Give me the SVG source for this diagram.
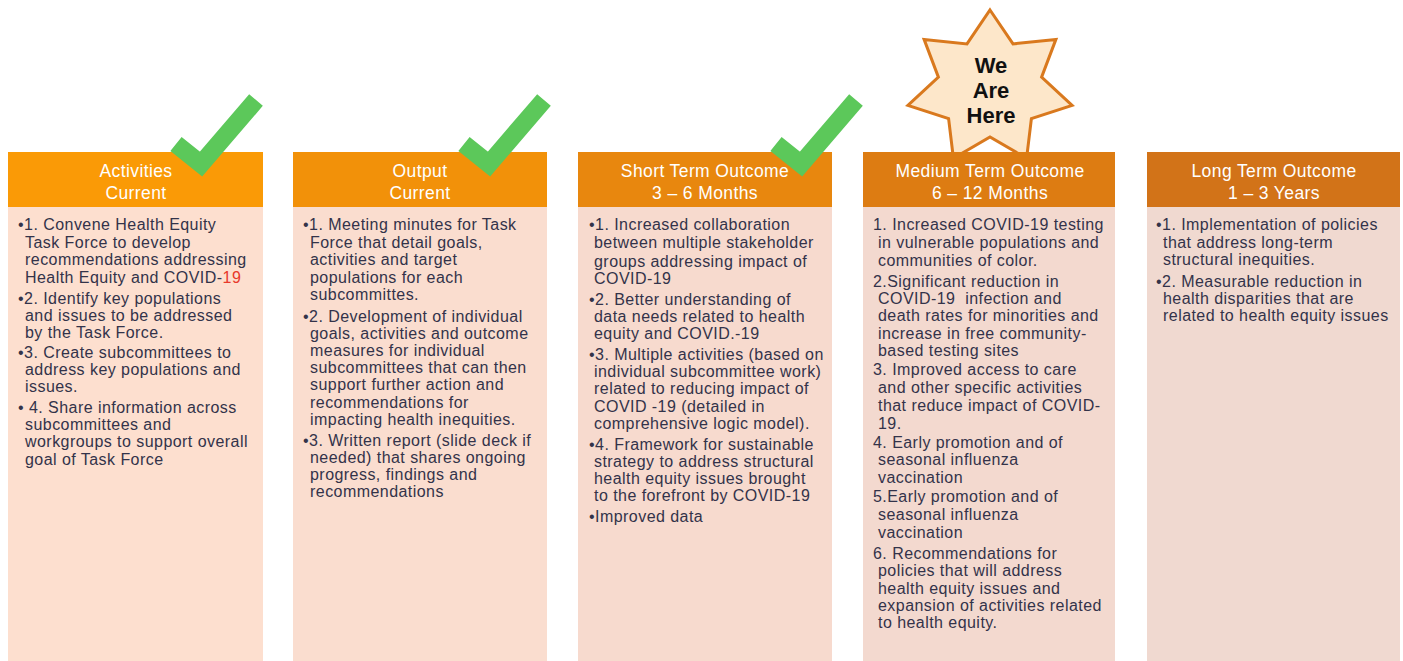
<svg xmlns="http://www.w3.org/2000/svg" width="1403" height="661" viewBox="0 0 1403 661">
<style>
.hd{font-family:"Liberation Sans",Arial,sans-serif;font-size:17.5px;fill:#ffffff;text-anchor:middle;letter-spacing:0.4px}
.bd{font-family:"Liberation Sans",Arial,sans-serif;font-size:16px;fill:#33334a;letter-spacing:0.45px}
.red{fill:#e8392b}
.check{fill:none;stroke:#5cc85a;stroke-width:18;stroke-linejoin:miter;stroke-linecap:butt}
.star{fill:#fde7ca;stroke:#d9791e;stroke-width:3;stroke-linejoin:miter}
.startxt{font-family:"Liberation Sans",Arial,sans-serif;font-size:22px;font-weight:bold;fill:#111111;text-anchor:middle}
</style>
<rect x="0" y="0" width="1403" height="661" fill="#ffffff"/>

<g id="star">
<polygon class="star" points="990,10 1013,43.9 1055.9,39.4 1041.6,77.1 1072.1,105.4 1031.4,118.6 1026.6,158.3 990,137 953.4,158.3 948.6,118.6 907.9,105.4 938.4,77.1 924.1,39.4 967,43.9"/>
<text class="startxt" x="991" y="73">We</text>
<text class="startxt" x="991" y="98">Are</text>
<text class="startxt" x="991" y="123">Here</text>
</g>

<g id="col-activities">
<rect x="8" y="207" width="255" height="454" fill="#fddfcf"/>
<rect x="8" y="152" width="255" height="55" fill="#fa9a06"/>
<text class="hd" x="136" y="177">Activities</text>
<text class="hd" x="136" y="199">Current</text>
<text class="bd">
<tspan x="18" y="230">•1. Convene Health Equity</tspan>
<tspan x="25" y="247.5">Task Force to develop</tspan>
<tspan x="25" y="265">recommendations addressing</tspan>
<tspan x="25" y="282.5">Health Equity and COVID-<tspan class="red">19</tspan></tspan>
<tspan x="18" y="303.5">•2. Identify key populations</tspan>
<tspan x="25" y="320.5">and issues to be addressed</tspan>
<tspan x="25" y="338">by the Task Force.</tspan>
<tspan x="18" y="357.5">•3. Create subcommittees to</tspan>
<tspan x="25" y="374.5">address key populations and</tspan>
<tspan x="25" y="392">issues.</tspan>
<tspan x="18" y="412.5">• 4. Share information across</tspan>
<tspan x="25" y="429.5">subcommittees and</tspan>
<tspan x="25" y="447">workgroups to support overall</tspan>
<tspan x="25" y="464.5">goal of Task Force</tspan>
</text>
</g>

<g id="col-output">
<rect x="293" y="207" width="254" height="454" fill="#faddcf"/>
<rect x="293" y="152" width="254" height="55" fill="#f29109"/>
<text class="hd" x="420" y="177">Output</text>
<text class="hd" x="420" y="199">Current</text>
<text class="bd">
<tspan x="303" y="230">•1. Meeting minutes for Task</tspan>
<tspan x="310" y="247.5">Force that detail goals,</tspan>
<tspan x="310" y="265">activities and target</tspan>
<tspan x="310" y="282.5">populations for each</tspan>
<tspan x="310" y="300">subcommittes.</tspan>
<tspan x="303" y="321.5">•2. Development of individual</tspan>
<tspan x="310" y="338.5">goals, activities and outcome</tspan>
<tspan x="310" y="356">measures for individual</tspan>
<tspan x="310" y="373">subcommittees that can then</tspan>
<tspan x="310" y="390">support further action and</tspan>
<tspan x="310" y="407.5">recommendations for</tspan>
<tspan x="310" y="424.5">impacting health inequities.</tspan>
<tspan x="303" y="445.5">•3. Written report (slide deck if</tspan>
<tspan x="310" y="462.5">needed) that shares ongoing</tspan>
<tspan x="310" y="480">progress, findings and</tspan>
<tspan x="310" y="497">recommendations</tspan>
</text>
</g>

<g id="col-short">
<rect x="578" y="207" width="254" height="454" fill="#f7dace"/>
<rect x="578" y="152" width="254" height="55" fill="#e8870e"/>
<text class="hd" x="705" y="177">Short Term Outcome</text>
<text class="hd" x="705" y="199">3 – 6 Months</text>
<text class="bd">
<tspan x="589" y="230">•1. Increased collaboration</tspan>
<tspan x="594" y="248">between multiple stakeholder</tspan>
<tspan x="594" y="266.5">groups addressing impact of</tspan>
<tspan x="594" y="284">COVID-19</tspan>
<tspan x="589" y="304.5">•2. Better understanding of</tspan>
<tspan x="594" y="321.5">data needs related to health</tspan>
<tspan x="594" y="339">equity and COVID.-19</tspan>
<tspan x="589" y="359.5">•3. Multiple activities (based on</tspan>
<tspan x="594" y="376.5">individual subcommittee work)</tspan>
<tspan x="594" y="394">related to reducing impact of</tspan>
<tspan x="594" y="411.5">COVID -19 (detailed in</tspan>
<tspan x="594" y="429">comprehensive logic model).</tspan>
<tspan x="589" y="449.5">•4. Framework for sustainable</tspan>
<tspan x="594" y="466.5">strategy to address structural</tspan>
<tspan x="594" y="484">health equity issues brought</tspan>
<tspan x="594" y="501">to the forefront by COVID-19</tspan>
<tspan x="589" y="521.5">•Improved data</tspan>
</text>
</g>

<g id="col-medium">
<rect x="863" y="207" width="252" height="454" fill="#f3d9cf"/>
<rect x="863" y="152" width="252" height="55" fill="#dd7c12"/>
<text class="hd" x="990" y="177">Medium Term Outcome</text>
<text class="hd" x="990" y="199">6 – 12 Months</text>
<text class="bd">
<tspan x="873" y="230">1. Increased COVID-19 testing</tspan>
<tspan x="878" y="248">in vulnerable populations and</tspan>
<tspan x="878" y="266">communities of color.</tspan>
<tspan x="873" y="286.5">2.Significant reduction in</tspan>
<tspan x="878" y="303.5">COVID-19&#160; infection and</tspan>
<tspan x="878" y="321">death rates for minorities and</tspan>
<tspan x="878" y="338.5">increase in free community-</tspan>
<tspan x="878" y="356">based testing sites</tspan>
<tspan x="873" y="374.5">3. Improved access to care</tspan>
<tspan x="878" y="392.5">and other specific activities</tspan>
<tspan x="878" y="411">that reduce impact of COVID-</tspan>
<tspan x="878" y="428.5">19.</tspan>
<tspan x="873" y="447.5">4. Early promotion and of</tspan>
<tspan x="878" y="465">seasonal influenza</tspan>
<tspan x="878" y="482.5">vaccination</tspan>
<tspan x="873" y="501.5">5.Early promotion and of</tspan>
<tspan x="878" y="520">seasonal influenza</tspan>
<tspan x="878" y="537.5">vaccination</tspan>
<tspan x="873" y="558.5">6. Recommendations for</tspan>
<tspan x="878" y="576">policies that will address</tspan>
<tspan x="878" y="593.5">health equity issues and</tspan>
<tspan x="878" y="610.5">expansion of activities related</tspan>
<tspan x="878" y="627.5">to health equity.</tspan>
</text>
</g>

<g id="col-long">
<rect x="1147" y="207" width="253" height="454" fill="#f0d9d0"/>
<rect x="1147" y="152" width="253" height="55" fill="#d27318"/>
<text class="hd" x="1274" y="177">Long Term Outcome</text>
<text class="hd" x="1274" y="199">1 – 3 Years</text>
<text class="bd">
<tspan x="1156" y="230">•1. Implementation of policies</tspan>
<tspan x="1163" y="247.5">that address long-term</tspan>
<tspan x="1163" y="265">structural inequities.</tspan>
<tspan x="1156" y="286.5">•2. Measurable reduction in</tspan>
<tspan x="1163" y="303.5">health disparities that are</tspan>
<tspan x="1163" y="321">related to health equity issues</tspan>
</text>
</g>

<g id="checkmarks">
<polyline class="check" points="176,144 201,164 256,100"/>
<polyline class="check" points="464,144 489,164 544,100"/>
<polyline class="check" points="776,144 801,164 856,100"/>
</g>
</svg>
